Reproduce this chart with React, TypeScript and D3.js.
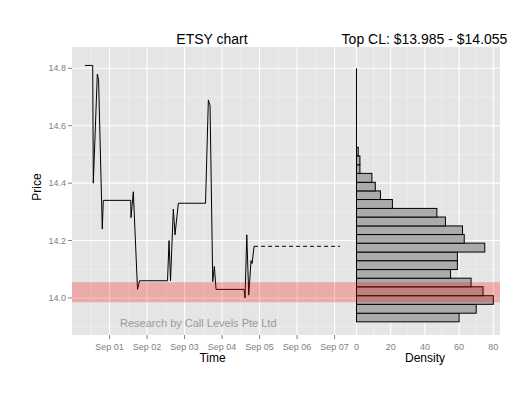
import React from "react";
import * as d3 from "d3";

// ---- data ----
const priceTimes = [
  "2015-08-31 08:19", "2015-08-31 13:15", "2015-08-31 13:38", "2015-08-31 16:12",
  "2015-08-31 17:00", "2015-08-31 19:23", "2015-08-31 20:02", "2015-09-01 13:34",
  "2015-09-01 13:46", "2015-09-01 15:14", "2015-09-01 17:55", "2015-09-01 19:12",
  "2015-09-02 13:07", "2015-09-02 14:05", "2015-09-02 15:02", "2015-09-02 16:50",
  "2015-09-02 17:55", "2015-09-02 20:02", "2015-09-03 13:26", "2015-09-03 15:14",
  "2015-09-03 16:19", "2015-09-03 18:03", "2015-09-03 19:05", "2015-09-03 20:10",
  "2015-09-04 14:05", "2015-09-04 14:43", "2015-09-04 15:49", "2015-09-04 17:05",
  "2015-09-04 18:33", "2015-09-04 19:12", "2015-09-04 20:29",
];
const prices = [
  14.81, 14.81, 14.40, 14.78,
  14.76, 14.24, 14.34, 14.34,
  14.28, 14.37, 14.03, 14.06,
  14.06, 14.20, 14.06, 14.31,
  14.22, 14.33, 14.33, 14.69,
  14.67, 14.057, 14.11, 14.03,
  14.03, 14.00, 14.22, 14.01,
  14.13, 14.12, 14.18,
];
const projTimes = ["2015-09-04 20:29", "2015-09-07 03:32"];
const projPrices = [14.18, 14.18];

const binLow = [
  13.917, 13.947, 13.978, 14.008, 14.039, 14.069, 14.099, 14.130, 14.160, 14.191,
  14.221, 14.251, 14.282, 14.312, 14.343, 14.373, 14.403, 14.434, 14.464, 14.495,
];
const binHigh = [
  13.947, 13.978, 14.008, 14.039, 14.069, 14.099, 14.130, 14.160, 14.191, 14.221,
  14.251, 14.282, 14.312, 14.343, 14.373, 14.403, 14.434, 14.464, 14.495, 14.525,
];
const binCounts = [60, 70, 80, 74, 67, 55, 59, 59, 75, 63, 62, 52, 47, 21, 14, 11, 9, 2, 2, 1];

const clLow = 13.985;
const clHigh = 14.055;

const timeTickLabels = ["Sep 01", "Sep 02", "Sep 03", "Sep 04", "Sep 05", "Sep 06", "Sep 07"];
const densityTicks = [0, 20, 40, 60, 80];
const priceTicks = [14.0, 14.2, 14.4, 14.6, 14.8];
const priceMinor = [13.9, 14.1, 14.3, 14.5, 14.7];

const titleLeft = "ETSY chart";
const titleRight = "Top CL: $13.985 - $14.055";
const watermark = "Research by Call Levels Pte Ltd";

// ---- layout ----
const W = 529, H = 396;
const PL = 72, PR = 500, PT = 47, PB = 335;
const parse = d3.timeParse("%Y-%m-%d %H:%M");
const fmt = d3.timeFormat("%b %d");

const x = d3.scaleTime()
  .domain([parse("2015-08-31 00:00")!, parse("2015-09-11 09:50")!])
  .range([PL, PR]);
const xd = d3.scaleLinear().domain([0, 80]).range([356.5, 493.3]);
const y = d3.scaleLinear().domain([13.8711, 14.8742]).range([PB, PT]);

const FONT = "'Liberation Sans', Arial, Helvetica, sans-serif";

export default function App() {
  const pts = priceTimes.map((t, i) => ({ t: parse(t)!, p: prices[i] }));
  const proj = projTimes.map((t, i) => ({ t: parse(t)!, p: projPrices[i] }));
  const line = d3.line<{ t: Date; p: number }>().x(d => x(d.t)).y(d => y(d.p));

  const dayTicks = timeTickLabels.map((_, i) => d3.timeDay.offset(parse("2015-09-01 00:00")!, i));
  const halfDays = d3.range(0, 8).map(i => d3.timeHour.offset(parse("2015-08-31 12:00")!, i * 24));
  const densMinor = [10, 30, 50, 70];

  return (
    <svg width={W} height={H} style={{ display: "block", position: "absolute", left: 0, top: 0 }}
      fontFamily={FONT}>
      <rect x={0} y={0} width={W} height={H} fill="#fff" />
      <rect x={PL} y={PT} width={PR - PL} height={PB - PT} fill="#E5E5E5" />
      {/* minor grid */}
      {priceMinor.map(v => (
        <line key={"hm" + v} x1={PL} x2={PR} y1={y(v)} y2={y(v)} stroke="#F2F2F2" strokeWidth={0.6} />
      ))}
      {halfDays.map((d, i) => (
        <line key={"vm" + i} x1={x(d)} x2={x(d)} y1={PT} y2={PB} stroke="#F2F2F2" strokeWidth={0.6} />
      ))}
      {densMinor.map(v => (
        <line key={"dm" + v} x1={xd(v)} x2={xd(v)} y1={PT} y2={PB} stroke="#F2F2F2" strokeWidth={0.6} />
      ))}
      {/* major grid */}
      {priceTicks.map(v => (
        <line key={"hM" + v} x1={PL} x2={PR} y1={y(v)} y2={y(v)} stroke="#fff" strokeWidth={1.1} />
      ))}
      {dayTicks.map((d, i) => (
        <line key={"vM" + i} x1={x(d)} x2={x(d)} y1={PT} y2={PB} stroke="#fff" strokeWidth={1.1} />
      ))}
      {densityTicks.map(v => (
        <line key={"dM" + v} x1={xd(v)} x2={xd(v)} y1={PT} y2={PB} stroke="#fff" strokeWidth={1.1} />
      ))}

      {/* histogram */}
      {binCounts.map((c, i) => (
        <rect key={"b" + i} x={xd(0)} y={y(binHigh[i])} width={xd(c) - xd(0)}
          height={y(binLow[i]) - y(binHigh[i])} fill="#ABABAB" stroke="#000" strokeWidth={1} />
      ))}
      <line x1={xd(0)} x2={xd(0)} y1={y(14.80)} y2={y(binLow[0])} stroke="#000" strokeWidth={1} />

      {/* price line */}
      <path d={line(pts)!} fill="none" stroke="#000" strokeWidth={1} strokeLinejoin="round" />
      <path d={line(proj)!} fill="none" stroke="#000" strokeWidth={1} strokeDasharray="4,3" />

      {/* top CL band */}
      <rect x={PL} y={y(clHigh)} width={PR - PL} height={y(clLow) - y(clHigh)} fill="#FF0000" opacity={0.25} />

      {/* watermark */}
      <text x={120} y={327} fontSize={11} fill="#9A9A9A">{watermark}</text>

      {/* y axis */}
      {priceTicks.map(v => (
        <g key={"yt" + v}>
          <line x1={PL - 4} x2={PL} y1={y(v)} y2={y(v)} stroke="#7F7F7F" />
          <text x={PL - 6} y={y(v)} dy="0.35em" textAnchor="end" fontSize={9} fill="#7F7F7F">{v.toFixed(1)}</text>
        </g>
      ))}
      {/* x axis */}
      {dayTicks.map((d, i) => (
        <g key={"xt" + i}>
          <line x1={x(d)} x2={x(d)} y1={PB} y2={PB + 4} stroke="#7F7F7F" />
          <text x={x(d)} y={349.5} textAnchor="middle" fontSize={9} fill="#7F7F7F">{fmt(d)}</text>
        </g>
      ))}
      {densityTicks.map(v => (
        <text key={"dt" + v} x={xd(v)} y={349.5} textAnchor="middle" fontSize={9} fill="#7F7F7F">{v}</text>
      ))}

      {/* labels */}
      <text x={212} y={44} textAnchor="middle" fontSize={14} fill="#000">{titleLeft}</text>
      <text x={424.5} y={44} textAnchor="middle" fontSize={14} fill="#000">{titleRight}</text>
      <text x={212.5} y={362} textAnchor="middle" fontSize={12} fill="#000">Time</text>
      <text x={425} y={362} textAnchor="middle" fontSize={12} fill="#000">Density</text>
      <text transform={`translate(41,187) rotate(-90)`} textAnchor="middle" fontSize={12} fill="#000">Price</text>
    </svg>
  );
}
